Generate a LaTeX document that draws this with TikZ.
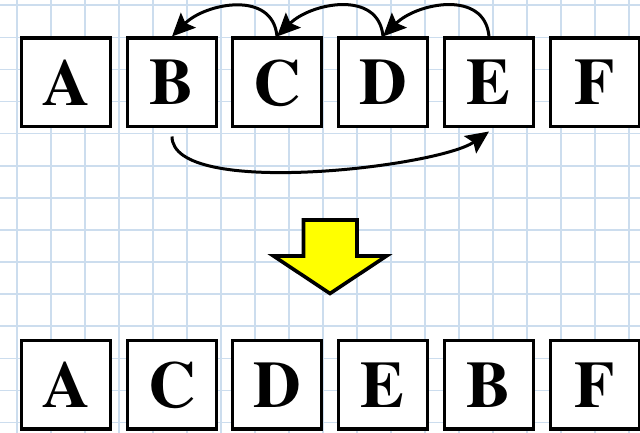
\documentclass[tikz,border=0pt]{standalone}
\usepackage{fontspec}
\newfontfamily\letterfont{texgyretermes-bold.otf}
\usetikzlibrary{arrows.meta}
\definecolor{gridblue}{RGB}{204,221,238}
\definecolor{arrowyellow}{RGB}{255,255,0}
\tikzset{
  letterbox/.style={draw=black, line width=3.4pt, fill=white, minimum width=88.6pt, minimum height=88.6pt, inner sep=0pt,
    font=\fontsize{66}{66}\letterfont, text depth=0pt},
  conn/.style={draw=black, line width=3pt, -{Stealth[length=23pt,width=21pt,inset=4pt]}},
  gridline/.style={draw=gridblue, line width=1.6pt},
  bigarrow/.style={draw=black, line width=3.6pt, fill=arrowyellow, line join=miter}
}
\begin{document}
\begin{tikzpicture}[x=1pt,y=1pt]
  \useasboundingbox (0,0) rectangle (640,433);
  \fill[white] (0,0) rectangle (640,433);
  % grid
  \foreach \k in {0,...,18} {
    \draw[gridline] ({16.7+34*\k},0) -- ({16.7+34*\k},433);
  }
  \foreach \k in {0,...,13} {
    \draw[gridline] (0,{433-5.3-32.1*\k}) -- (640,{433-5.3-32.1*\k});
  }
  % top row
  \node[letterbox] (a1) at (66,350.5) {A};
  \node[letterbox] (b1) at (172,350.5) {B};
  \node[letterbox] (c1) at (277,350.5) {C};
  \node[letterbox] (d1) at (383,350.5) {D};
  \node[letterbox] (e1) at (489,350.5) {E};
  \node[letterbox] (f1) at (595,350.5) {F};
  % bottom row
  \node[letterbox] (a2) at (66,48.3) {A};
  \node[letterbox] (c2) at (172,48.3) {C};
  \node[letterbox] (d2) at (277,48.3) {D};
  \node[letterbox] (e2) at (383,48.3) {E};
  \node[letterbox] (b2) at (489,48.3) {B};
  \node[letterbox] (f2) at (595,48.3) {F};
  % connectors
  \draw[conn] (c1.north) to[out=95,in=45,looseness=1.15] (b1.north);
  \draw[conn] (d1.north) to[out=95,in=45,looseness=1.15] (c1.north);
  \draw[conn] (e1.north) to[out=95,in=45,looseness=1.15] (d1.north);
  \draw[conn] ([yshift=-8pt]b1.south) to[out=-90,in=-145,looseness=0.5] ([yshift=-3pt]e1.south);
  % big down arrow
  \draw[bigarrow] (303.5,213) -- (357,213) -- (357,177) -- (386.5,177) -- (330,139.5)
    -- (273.5,177) -- (303.5,177) -- cycle;
\end{tikzpicture}
\end{document}
